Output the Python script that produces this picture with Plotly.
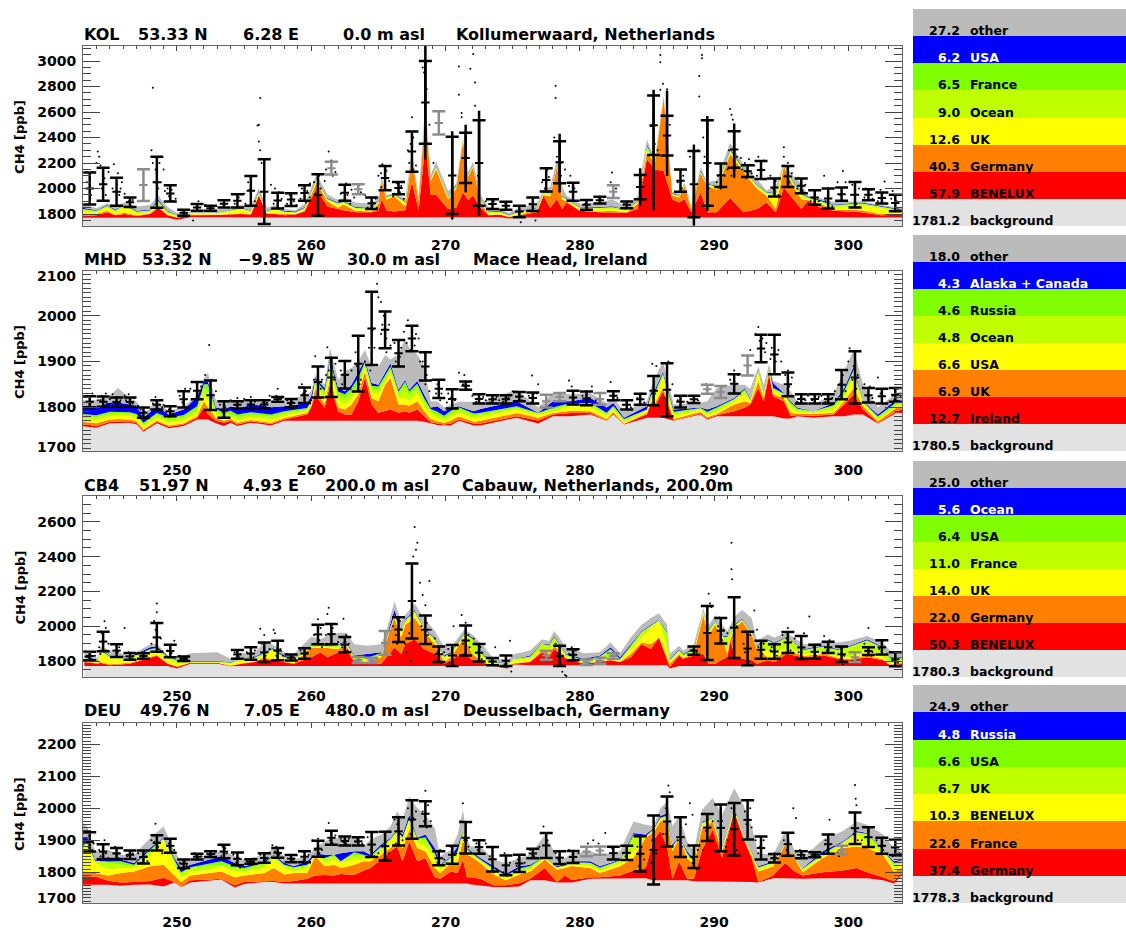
import plotly.graph_objects as go

W = 1126
H = 930

# colours of the stacked source regions, top of stack first
band_colors = ['#bbbbbb', '#0000ff', '#7fff00', '#bfff00', '#ffff00', '#ff8000', '#ff0000', '#e2e2e2']

# one error bar per day
obs_days = [243.5 + i for i in range(61)]

# ---------- KOL
kol_title = ['KOL', '53.33 N', '6.28 E', '0.0 m asl', 'Kollumerwaard, Netherlands']
kol_names = ['other', 'USA', 'France', 'Ocean', 'UK', 'Germany', 'BENELUX', 'background']
kol_values = [27.2, 6.2, 6.5, 9.0, 12.6, 40.3, 57.9, 1781.2]
kol_days = [243, 244, 244.8, 245.4, 246.1, 247, 248, 248.6, 249.3, 250,
            251, 253, 254.8, 255.5, 256.1, 256.7, 257.3, 258, 258.8, 259.5,
            260.4, 261.2, 262, 262.4, 263.3, 264.5, 265, 265.25, 265.6, 266.2,
            267, 267.5, 268, 268.5, 268.9, 269.3, 270.2, 270.8, 271.3, 271.7,
            272.05, 272.6, 273.2, 274.1, 274.7, 275.5, 276.8, 277.3, 277.8, 278.3,
            278.7, 279, 280, 281.5, 282.4, 283.5, 284.3, 285, 285.6, 286.25,
            286.9, 287.4, 287.8, 288.3, 289, 289.5, 290.2, 291.2, 292.2, 293.2,
            293.9, 294.6, 295.2, 295.9, 296.5, 297, 297.9, 298.9, 301, 302.4, 304]
kol_bg = [1770, 1770, 1770, 1770, 1770, 1770, 1770, 1770, 1770, 1755,
          1775, 1775, 1772, 1772, 1772, 1772, 1772, 1772, 1772, 1772,
          1772, 1775, 1775, 1775, 1775, 1775, 1775, 1775, 1775, 1775,
          1775, 1775, 1775, 1775, 1775, 1775, 1775, 1775, 1775, 1775,
          1775, 1775, 1770, 1775, 1765, 1772, 1772, 1772, 1772, 1772,
          1772, 1772, 1772, 1772, 1772, 1772, 1772, 1772, 1772, 1772,
          1772, 1772, 1772, 1772, 1772, 1772, 1772, 1772, 1772, 1772,
          1772, 1772, 1772, 1772, 1772, 1772, 1772, 1772, 1770, 1770, 1772]
kol_red = [1785, 1790, 1815, 1790, 1800, 1785, 1800, 1850, 1790, 1770,
           1790, 1792, 1800, 1795, 1945, 1800, 1800, 1790, 1795, 1820,
           2000, 1860, 1840, 1830, 1815, 1815, 1825, 1915, 1830, 1820,
           1830, 2050, 1830, 2350, 1950, 1950, 1840, 1850, 1970, 1910,
           1945, 1850, 1790, 1795, 1775, 1790, 1815, 1943, 1850, 1917,
           1840, 1890, 1825, 1815, 1815, 1810, 1840, 2230, 2150, 2138,
           1915, 1890, 1917, 1815, 1970, 1815, 1815, 1925, 1815, 1840,
           1890, 1815, 2008, 1917, 1840, 1905, 1852, 1825, 1815, 1790, 1795]
kol_orange = [1795, 1800, 1825, 1795, 1810, 1790, 1805, 1860, 1795, 1775,
              1795, 1795, 1805, 1800, 1950, 1805, 1805, 1800, 1800, 1825,
              2050, 1900, 1850, 1875, 1825, 1820, 1880, 2060, 1915, 1940,
              1860, 2240, 1900, 2600, 2060, 2150, 1915, 2000, 2370, 2095,
              2165, 1895, 1795, 1797, 1778, 1795, 1825, 1950, 1940, 2177,
              1915, 1900, 1830, 1820, 1825, 1815, 1880, 2280, 2200, 2715,
              1945, 1930, 2020, 1840, 2120, 2020, 1990, 2270, 2130, 2000,
              1945, 1840, 2175, 2020, 1917, 1910, 1880, 1835, 1830, 1800, 1800]
kol_yellow = [1820, 1810, 1850, 1815, 1855, 1805, 1815, 1875, 1805, 1785,
              1805, 1805, 1835, 1815, 1960, 1812, 1835, 1810, 1806, 1835,
              2065, 1910, 1870, 1885, 1840, 1830, 1895, 2065, 1925, 1945,
              1880, 2250, 1910, 2610, 2070, 2160, 1920, 2010, 2375, 2100,
              2170, 1905, 1805, 1810, 1785, 1812, 1838, 1960, 1950, 2185,
              1925, 1910, 1845, 1840, 1838, 1825, 1890, 2300, 2205, 2718,
              1950, 1935, 2025, 1845, 2125, 2025, 2000, 2280, 2140, 2010,
              1955, 1945, 2180, 2030, 1940, 1915, 1890, 1850, 1870, 1845, 1815]
kol_lime = [1835, 1820, 1860, 1825, 1865, 1815, 1825, 1895, 1815, 1790,
            1808, 1810, 1842, 1822, 1970, 1818, 1842, 1816, 1812, 1845,
            2072, 1915, 1878, 1892, 1846, 1838, 1900, 2070, 1930, 1950,
            1890, 2255, 1915, 2615, 2075, 2170, 1930, 2015, 2380, 2105,
            2180, 1912, 1812, 1816, 1790, 1816, 1842, 1965, 1960, 2190,
            1935, 1915, 1850, 1846, 1850, 1830, 1895, 2320, 2212, 2720,
            1955, 1940, 2030, 1850, 2130, 2030, 2010, 2295, 2145, 2020,
            1965, 1955, 2185, 2040, 1950, 1925, 1898, 1862, 1880, 1855, 1825]
kol_green = [1840, 1825, 1865, 1830, 1870, 1820, 1830, 1905, 1820, 1793,
             1810, 1812, 1846, 1826, 1975, 1822, 1846, 1820, 1815, 1850,
             2078, 1920, 1884, 1898, 1850, 1844, 1905, 2075, 1935, 1955,
             1895, 2260, 1920, 2620, 2080, 2175, 1935, 2020, 2382, 2110,
             2185, 1920, 1816, 1820, 1793, 1820, 1846, 1970, 1965, 2195,
             1940, 1920, 1854, 1850, 1855, 1834, 1900, 2335, 2220, 2722,
             1960, 1945, 2035, 1852, 2135, 2035, 2015, 2305, 2150, 2025,
             1970, 1960, 2190, 2050, 1960, 1932, 1905, 1870, 1885, 1860, 1830]
kol_blue = [1850, 1830, 1870, 1835, 1875, 1825, 1835, 1915, 1825, 1795,
            1812, 1815, 1850, 1830, 1985, 1826, 1850, 1825, 1820, 1855,
            2085, 1925, 1890, 1904, 1855, 1850, 1910, 2080, 1940, 1960,
            1900, 2265, 1925, 2625, 2085, 2180, 1940, 2025, 2385, 2115,
            2190, 1925, 1820, 1825, 1796, 1825, 1850, 1975, 1970, 2205,
            1945, 1925, 1858, 1855, 1862, 1838, 1905, 2345, 2225, 2724,
            1965, 1950, 2040, 1855, 2145, 2040, 2020, 2315, 2155, 2030,
            1975, 1965, 2195, 2055, 1965, 1938, 1912, 1875, 1890, 1865, 1835]
kol_other = [1880, 1845, 1885, 1865, 1890, 1860, 1870, 1945, 1855, 1810,
             1815, 1835, 1870, 1860, 2005, 1850, 1870, 1840, 1830, 1880,
             2110, 1955, 1910, 1925, 1890, 1880, 1925, 2085, 1950, 1965,
             1920, 2300, 1935, 2680, 2110, 2210, 1980, 2040, 2395, 2130,
             2210, 1950, 1855, 1840, 1810, 1850, 1880, 1990, 2015, 2230,
             2015, 1945, 1880, 1890, 1915, 1860, 1940, 2385, 2230, 2730,
             1970, 1960, 2045, 1865, 2165, 2050, 2065, 2360, 2190, 2075,
             1985, 2020, 2195, 2100, 2040, 1945, 1925, 1895, 1900, 1870, 1850]
kol_mean = [2000, 2034, 1975, 1893, 2027, 2050, 1962, 1810, 1852, 1845,
            1880, 1904, 1982, 1975, 1906, 1914, 1965, 1950, 2160, 1967,
            1995, 1885, 2082, 2004, 2290, 2676, 2515, 2103, 2240, 2200,
            1878, 1865, 1820, 1877, 2068, 2207, 1975, 1872, 1909, 1975,
            1872, 2012, 2497, 2416, 2062, 2034, 2200, 2105, 2307, 2136,
            2145, 2008, 2095, 2021, 1930, 1922, 1956, 1952, 1952, 1926,
            1886]
kol_sd = [125, 130, 110, 37, 125, 200, 64, 23, 26, 20,
          28, 52, 117, 254, 62, 50, 61, 163, 50, 63,
          39, 45, 95, 48, 158, 325, 91, 303, 197, 335,
          39, 31, 45, 53, 91, 165, 71, 38, 26, 50,
          27, 95, 234, 156, 88, 260, 335, 92, 143, 46,
          71, 70, 82, 57, 57, 78, 52, 100, 43, 43,
          65]
kol_gray = [247.5, 261.5, 263.5, 269.5, 282.5]
kol_whisk_days = [268.5, 270.5, 271.5, 272.5, 278.5, 284.5, 285.5, 286.5, 288.5, 289.5, 291.5]
kol_whisk_low = [2229, 1760, 1970, 1787, 1970, 1865, 1830, 2100, 1710, 1825, 2085]
kol_whisk_high = [3120, 2450, 2500, 2610, 2430, 2160, 2775, 2770, 2340, 2570, 2510]
kol_dots = [(243.7, 2130), (244, 2200), (244.1, 2290), (244.2, 2250), (244.3, 2180), (244.6, 2080), (244.9, 2130),
            (245.3, 2190), (245.6, 2120), (245.8, 2000), (245.9, 2050), (246.1, 1960), (246.4, 1900), (246.7, 1910),
            (248.1, 2300), (248.2, 2790), (248.2, 2200), (248.4, 2150), (248.7, 2200), (249, 2150), (248.8, 2050),
            (249.3, 2000), (249.6, 1990), (249.9, 1920), (251.2, 1750), (251.6, 1900), (252.1, 1870), (254.6, 1930),
            (255, 1960), (255.3, 2050), (255.6, 2100), (255.4, 1990), (256.2, 2710), (256.1, 2500), (256, 2495),
            (256.1, 2370), (256.2, 2300), (256.3, 2200), (257, 2030), (257.3, 2000), (257.6, 1970), (257.8, 1920),
            (258.4, 1950), (258.7, 1900), (259.3, 2000), (259.7, 1980), (259.9, 2040), (260.2, 2050), (260.6, 2100),
            (261, 2060), (261.1, 2150), (261.3, 2290), (261.5, 2220), (261.8, 2130), (261.6, 2100), (262.2, 1960),
            (262.6, 2040), (263, 1990), (263.2, 1930), (263.6, 2030), (264, 1950), (264.4, 1930), (264.8, 1920),
            (265, 2100), (265.3, 2190), (265.6, 2140), (265.8, 2060), (265.2, 2010), (266.2, 1960), (266.4, 2040),
            (266.7, 2020), (267.2, 2300), (267.3, 2450), (267.5, 2560), (267.6, 2400), (267.8, 2180), (268.3, 2950),
            (268.4, 2910), (268.6, 2780), (268.8, 2500), (269.1, 2200), (271, 2957), (272.06, 3056), (271.85, 2939),
            (272.2, 2832), (271, 2736), (272.2, 2650), (271.2, 2593), (271.2, 2560), (272.4, 2100), (272.5, 2000),
            (273, 1900), (273.6, 1900), (274.4, 1890), (275.6, 1735), (276.7, 1750), (277.2, 2050), (277.6, 2150),
            (278.2, 2806), (278.2, 2710), (278.1, 2400), (278.3, 2250), (278.6, 2200), (278.9, 2150), (279.3, 2100),
            (279.6, 2000), (280.4, 1880), (281.4, 1930), (282.4, 2125), (282.3, 2050), (282.7, 2000), (283.6, 1900),
            (284.6, 2050), (285.5, 2567), (285.3, 2489), (285.6, 2350), (285.8, 2300), (286, 3048), (286, 2990),
            (286.2, 2822), (286, 2775), (286.5, 2780), (286.7, 2500), (287.3, 2150), (287.7, 2100), (288.5, 2340),
            (288.8, 2300), (289.1, 3048), (289.1, 3022), (288.9, 2884), (288.9, 2723), (289.2, 2400), (289.3, 2250),
            (289.6, 2000), (290.3, 2100), (291.2, 2624), (291.3, 2580), (291.4, 2540), (291.5, 2440), (291.1, 2300),
            (291.7, 2250), (292, 2240), (292.3, 2200), (292.6, 2230), (293, 2180), (293.3, 2250), (293.7, 2220),
            (294.2, 2100), (294.6, 2060), (295.2, 2325), (295.2, 2250), (295.5, 2200), (295.8, 2120), (296.3, 2080),
            (296.8, 2030), (297.5, 1950), (298.2, 2100), (298.5, 2000), (299.2, 2050), (299.6, 2138), (299.8, 2050),
            (300.3, 2030), (300.8, 2000), (301.3, 2000), (301.7, 1990), (302.4, 1990), (302.7, 2055), (303.3, 1980),
            (303.6, 1900)]
kol_cloud = [(255.8, 1900), (255.1, 1880), (254.3, 1880), (257.2, 1880), (257.9, 1850), (258.2, 1880), (258.9, 1870),
             (259.2, 1920), (259.6, 1890), (259.9, 1930), (260.3, 1960), (260.7, 2000), (260.9, 1880), (262.3, 1900),
             (262.7, 1950), (262.9, 1880), (263.3, 1960), (263.7, 1970), (264.2, 1850), (264.6, 1880), (264.9, 1850),
             (265.2, 2120), (265.5, 2060), (265.7, 1990), (266.1, 1940), (266.6, 1970), (266.9, 1920), (267.3, 2200),
             (267.6, 2150), (267.4, 2350), (290.8, 2100), (290.5, 2000), (291, 2150), (291.3, 2100), (292.1, 2150),
             (292.4, 2080), (292.8, 2120), (293.2, 2100), (293.6, 2150), (294, 2080), (294.4, 2000), (294.8, 1950),
             (295.3, 2100), (295.6, 2050), (296.2, 2000), (296.6, 1980), (297.2, 1900), (297.8, 1900), (298.3, 1900),
             (298.8, 1860), (299.4, 1950), (299.7, 1900), (300.2, 1950), (300.6, 1880), (301.2, 1930), (301.8, 1920),
             (302.2, 1900), (302.8, 1880), (303.2, 1920), (303.7, 1850), (243.3, 2050), (243.6, 1950), (244.4, 2000),
             (244.7, 1950), (245.2, 2000), (245.7, 1950), (248.3, 2050), (248.6, 2000), (249.1, 1980), (249.4, 1940),
             (249.7, 1900), (250.4, 1810), (250.7, 1800), (251.5, 1860), (252.5, 1850), (253.5, 1890), (273.5, 1880),
             (274.6, 1860), (276.3, 1880), (277.4, 2000), (277.7, 2090), (278.6, 2100), (279.2, 2020), (279.5, 1950),
             (283.3, 1880), (287.3, 2050), (287.6, 2000), (288.2, 2250), (290.2, 2050)]

# ---------- MHD
mhd_title = ['MHD', '53.32 N', '\u22129.85 W', '30.0 m asl', 'Mace Head, Ireland']
mhd_names = ['other', 'Alaska + Canada', 'Russia', 'Ocean', 'USA', 'UK', 'Ireland', 'background']
mhd_values = [18.0, 4.3, 4.6, 4.8, 6.6, 6.9, 12.7, 1780.5]
mhd_days = [243, 244, 245, 245.6, 246.5, 247, 247.5, 248.5, 249.4, 250.5,
            251.5, 252, 252.3, 252.9, 253.5, 254, 254.5, 255.5, 256.5, 257,
            258, 259.7, 260, 260.3, 261, 261.4, 262, 262.5, 263, 263.5,
            264, 264.5, 265, 265.5, 265.9, 266.5, 267, 267.3, 267.9, 268.4,
            268.9, 269.4, 269.9, 270.4, 271, 272.1, 272.6, 275.3, 276.9, 278,
            279.3, 280.8, 282, 282.5, 283.3, 285, 285.3, 285.6, 286.2, 287,
            289, 289.5, 290.2, 291.5, 292.3, 292.7, 293.3, 293.7, 294.1, 294.4,
            295.2, 295.7, 296.2, 297.4, 298.9, 299.7, 300.4, 301.1, 302.2, 303.6, 304]
mhd_bg = [1758, 1755, 1765, 1766, 1766, 1762, 1746, 1765, 1754, 1759,
          1773, 1773, 1773, 1765, 1759, 1766, 1759, 1766, 1762, 1760,
          1770, 1770, 1770, 1770, 1770, 1770, 1770, 1770, 1770, 1770,
          1770, 1770, 1770, 1770, 1770, 1770, 1770, 1770, 1770, 1768,
          1765, 1761, 1760, 1760, 1770, 1760, 1760, 1777, 1764, 1780,
          1780, 1784, 1770, 1784, 1762, 1777, 1777, 1777, 1777, 1770,
          1784, 1773, 1780, 1780, 1780, 1780, 1780, 1780, 1780, 1780,
          1775, 1775, 1780, 1777, 1780, 1780, 1784, 1784, 1764, 1788, 1787]
mhd_red = [1762, 1758, 1768, 1769, 1769, 1765, 1749, 1768, 1757, 1762,
           1777, 1800, 1785, 1770, 1766, 1770, 1762, 1769, 1765, 1763,
           1773, 1784, 1800, 1827, 1798, 1850, 1791, 1784, 1784, 1813,
           1864, 1806, 1788, 1791, 1795, 1788, 1791, 1788, 1795, 1781,
           1767, 1764, 1762, 1764, 1773, 1764, 1764, 1780, 1771, 1784,
           1787, 1787, 1771, 1786, 1763, 1784, 1809, 1802, 1835, 1771,
           1786, 1775, 1782, 1791, 1799, 1806, 1842, 1813, 1871, 1824,
           1813, 1781, 1782, 1781, 1784, 1806, 1828, 1795, 1766, 1791, 1795]
mhd_orange = [1768, 1765, 1773, 1774, 1773, 1769, 1751, 1771, 1760, 1765,
              1780, 1813, 1800, 1776, 1770, 1774, 1766, 1772, 1768, 1766,
              1776, 1788, 1803, 1841, 1806, 1864, 1799, 1795, 1806, 1828,
              1878, 1820, 1813, 1849, 1864, 1806, 1806, 1803, 1813, 1792,
              1774, 1769, 1766, 1771, 1780, 1768, 1770, 1787, 1777, 1787,
              1792, 1791, 1774, 1790, 1764, 1787, 1812, 1809, 1842, 1774,
              1790, 1778, 1785, 1806, 1813, 1809, 1856, 1820, 1878, 1828,
              1820, 1788, 1785, 1785, 1788, 1813, 1842, 1802, 1769, 1799, 1800]
mhd_yellow = [1775, 1772, 1780, 1781, 1780, 1776, 1759, 1778, 1766, 1772,
              1787, 1828, 1815, 1784, 1776, 1780, 1772, 1778, 1775, 1773,
              1782, 1791, 1806, 1850, 1820, 1882, 1815, 1806, 1820, 1838,
              1886, 1831, 1828, 1856, 1875, 1820, 1820, 1813, 1831, 1802,
              1785, 1777, 1771, 1778, 1788, 1776, 1778, 1795, 1783, 1791,
              1802, 1799, 1781, 1795, 1767, 1791, 1818, 1820, 1864, 1781,
              1794, 1783, 1790, 1813, 1828, 1812, 1878, 1824, 1881, 1835,
              1825, 1799, 1790, 1788, 1795, 1820, 1871, 1808, 1773, 1802, 1804]
mhd_lime = [1780, 1778, 1785, 1786, 1785, 1781, 1763, 1783, 1772, 1778,
            1795, 1842, 1835, 1790, 1782, 1786, 1778, 1784, 1781, 1779,
            1787, 1795, 1810, 1856, 1830, 1895, 1826, 1818, 1832, 1850,
            1893, 1840, 1838, 1864, 1882, 1830, 1845, 1825, 1843, 1813,
            1792, 1783, 1776, 1785, 1795, 1782, 1784, 1798, 1786, 1795,
            1806, 1806, 1784, 1799, 1771, 1795, 1822, 1828, 1870, 1786,
            1796, 1786, 1795, 1816, 1834, 1814, 1881, 1828, 1884, 1840,
            1828, 1806, 1794, 1790, 1801, 1828, 1878, 1811, 1777, 1807, 1808]
mhd_green = [1785, 1782, 1790, 1790, 1789, 1785, 1766, 1787, 1777, 1783,
             1802, 1850, 1850, 1796, 1788, 1792, 1784, 1789, 1786, 1784,
             1791, 1798, 1814, 1860, 1836, 1903, 1834, 1828, 1842, 1864,
             1899, 1847, 1845, 1870, 1889, 1834, 1856, 1834, 1851, 1820,
             1796, 1790, 1781, 1792, 1800, 1786, 1788, 1802, 1787, 1799,
             1809, 1809, 1788, 1803, 1774, 1795, 1826, 1832, 1874, 1790,
             1798, 1790, 1799, 1818, 1839, 1816, 1883, 1830, 1887, 1842,
             1830, 1810, 1797, 1791, 1804, 1836, 1882, 1812, 1780, 1811, 1812]
mhd_blue = [1803, 1800, 1810, 1810, 1806, 1802, 1777, 1802, 1784, 1795,
            1822, 1856, 1856, 1800, 1795, 1802, 1796, 1806, 1803, 1800,
            1802, 1809, 1825, 1864, 1842, 1911, 1842, 1835, 1849, 1875,
            1904, 1853, 1849, 1875, 1896, 1838, 1860, 1838, 1857, 1828,
            1799, 1802, 1791, 1798, 1802, 1791, 1796, 1813, 1788, 1813,
            1813, 1820, 1799, 1809, 1777, 1802, 1832, 1838, 1878, 1795,
            1799, 1795, 1802, 1820, 1842, 1818, 1885, 1831, 1889, 1853,
            1831, 1813, 1799, 1791, 1809, 1842, 1889, 1813, 1784, 1817, 1813]
mhd_other = [1815, 1815, 1825, 1842, 1820, 1812, 1782, 1815, 1790, 1802,
             1826, 1862, 1875, 1815, 1812, 1815, 1810, 1814, 1812, 1810,
             1814, 1827, 1835, 1871, 1849, 1929, 1860, 1878, 1886, 1900,
             1925, 1889, 1889, 1914, 1904, 1915, 1951, 1930, 1915, 1889,
             1813, 1813, 1799, 1806, 1812, 1812, 1810, 1838, 1799, 1831,
             1828, 1831, 1809, 1820, 1791, 1813, 1842, 1864, 1900, 1806,
             1810, 1813, 1842, 1849, 1849, 1840, 1889, 1849, 1893, 1857,
             1849, 1835, 1813, 1806, 1828, 1878, 1925, 1849, 1799, 1831, 1835]
mhd_mean = [1812, 1812, 1811, 1811, 1788, 1805, 1791, 1817, 1836, 1826,
            1795, 1805, 1806, 1806, 1817, 1809, 1826, 1855, 1865, 1871,
            1895, 1972, 1969, 1918, 1950, 1889, 1840, 1818, 1847, 1818,
            1817, 1817, 1823, 1820, 1813, 1822, 1821, 1819, 1818, 1825,
            1805, 1817, 1836, 1838, 1812, 1817, 1839, 1833, 1851, 1891,
            1928, 1915, 1850, 1818, 1818, 1818, 1849, 1865, 1826, 1824,
            1827]
mhd_sd = [12, 11, 10, 10, 11, 10, 11, 18, 19, 32,
          18, 8, 9, 9, 5, 9, 17, 34, 43, 30,
          61, 80, 40, 29, 28, 31, 20, 21, 9, 10,
          9, 9, 10, 12, 14, 9, 15, 15, 13, 10,
          10, 12, 32, 58, 13, 8, 10, 13, 21, 22,
          30, 43, 26, 10, 10, 10, 32, 57, 16, 16,
          15]
mhd_gray = [277.5, 278.5, 281.5, 289.5, 290.5, 292.5]
mhd_dots = [(243.3, 1825), (243.7, 1830), (244.1, 1815), (244.4, 1825), (244.7, 1830), (245, 1818), (245.2, 1828),
            (245.5, 1822), (245.8, 1815), (246.1, 1825), (246.4, 1828), (246.8, 1820), (247.3, 1795), (247.6, 1790),
            (247.8, 1780), (248.4, 1822), (248.7, 1815), (249, 1805), (249.4, 1795), (249.7, 1785), (250.2, 1825),
            (250.6, 1840), (250.9, 1835), (251.2, 1855), (251.5, 1850), (251.8, 1845), (252.1, 1870), (252.4, 1936),
            (252.6, 1860), (252.9, 1835), (253.2, 1805), (253.6, 1800), (254, 1815), (254.5, 1820), (255, 1818),
            (255.5, 1822), (256, 1815), (256.4, 1810), (256.9, 1825), (257.4, 1825), (257.5, 1840), (257.8, 1820),
            (258.2, 1815), (258.6, 1812), (259.3, 1850), (259.6, 1835), (260, 1815), (260.3, 1911), (260.5, 1880),
            (260.8, 1860), (261.1, 1870), (261.2, 1931), (261.5, 1905), (261.8, 1895), (262.2, 1880), (262.5, 1895),
            (263, 1880), (263.3, 1920), (263.7, 1860), (264, 1900), (264.3, 1930), (264.5, 2040), (264.9, 2070),
            (265, 2040), (265.2, 2030), (265.4, 2000), (265.2, 1960), (265.6, 1950), (265.9, 1935), (266.2, 1940),
            (266.6, 1910), (266.9, 1965), (267.2, 1990), (267.5, 1970), (267.8, 1960), (268, 1950), (268.3, 1900),
            (268.6, 1870), (269, 1860), (269.4, 1850), (269.7, 1830), (270.2, 1830), (270.7, 1815), (271, 1875),
            (271.4, 1870), (271.7, 1855), (272, 1825), (272.5, 1820), (273, 1815), (273.5, 1825), (274, 1815),
            (275, 1835), (275.5, 1830), (276.2, 1825), (276.45, 1869), (276.6, 1830), (276.9, 1850), (279.2, 1858),
            (279.4, 1845), (280.5, 1835), (280.9, 1845), (282.3, 1855), (282.6, 1825), (283.5, 1810), (284.6, 1830),
            (285.4, 1895), (285.7, 1890), (286.6, 1900), (286.9, 1850), (287.6, 1825), (288.5, 1825), (289.4, 1850),
            (290.6, 1845), (291.2, 1860), (291.5, 1880), (291.8, 1870), (292.5, 1910), (292.7, 1925), (293.1, 1960),
            (293.3, 1975), (293.6, 1950), (293.9, 1940), (294.3, 1930), (294.8, 1925), (295, 1900), (295.5, 1880),
            (295.8, 1865), (296.5, 1820), (297, 1825), (298, 1825), (299, 1835), (299.6, 1870), (300, 1900),
            (300.1, 1929), (300.4, 1890), (300.7, 1870), (301.2, 1850), (301.6, 1845), (302.2, 1865), (302.7, 1840),
            (303.3, 1825), (303.7, 1840)]
mhd_cloud = [(243.6, 1810), (244.3, 1815), (244.8, 1808), (245.3, 1812), (245.7, 1810), (246.2, 1815), (246.7, 1808),
             (247.1, 1803), (248.2, 1808), (248.9, 1800), (249.2, 1790), (250.4, 1810), (251, 1840), (251.7, 1830),
             (253.4, 1790), (254.3, 1805), (254.8, 1812), (255.3, 1805), (255.8, 1812), (256.2, 1803), (256.7, 1810),
             (257.2, 1812), (258.4, 1805), (258.9, 1802), (259.4, 1830), (260.2, 1860), (260.7, 1840), (261.3, 1880),
             (261.7, 1860), (262.3, 1850), (262.7, 1870), (263.4, 1890), (263.6, 1850), (264.6, 1970), (264.7, 1930),
             (264.4, 1880), (265.3, 1980), (265.6, 1920), (265.8, 1980), (266.3, 1900), (266.7, 1930), (267.1, 1940),
             (267.4, 1925), (267.7, 1935), (268.1, 1900), (268.5, 1850), (268.8, 1835), (269.3, 1830), (269.6, 1815),
             (270.1, 1810), (270.4, 1820), (271.3, 1850), (271.6, 1840), (272.3, 1812), (272.8, 1822), (273.3, 1810),
             (273.8, 1822), (274.3, 1812), (274.7, 1820), (275.3, 1822), (275.7, 1815), (276.4, 1810), (276.8, 1830),
             (279.6, 1820), (280.2, 1825), (280.7, 1820), (281.2, 1815), (282.8, 1820), (283.2, 1805), (283.8, 1800),
             (284.3, 1820), (284.8, 1810), (285.6, 1830), (286.3, 1820), (287.3, 1815), (288, 1812), (288.8, 1815),
             (291.6, 1850), (293.4, 1945), (293.8, 1920), (294.2, 1905), (294.6, 1900), (295.3, 1870), (295.6, 1845),
             (296.2, 1812), (296.8, 1815), (297.3, 1815), (297.8, 1822), (298.3, 1812), (298.8, 1820), (299.4, 1850),
             (299.8, 1835), (300.3, 1860), (300.6, 1840), (301.4, 1825), (301.8, 1820), (302.4, 1830), (303.4, 1815),
             (303.9, 1825)]

# ---------- CB4
cb4_title = ['CB4', '51.97 N', '4.93 E', '200.0 m asl', 'Cabauw, Netherlands, 200.0m']
cb4_names = ['other', 'Ocean', 'USA', 'France', 'UK', 'Germany', 'BENELUX', 'background']
cb4_values = [25.0, 5.6, 6.4, 11.0, 14.0, 22.0, 50.3, 1780.3]
cb4_days = [243.1, 244.1, 244.3, 245, 246.5, 248, 248.5, 249.3, 250, 251,
            253, 254, 254.8, 255.8, 256.5, 257.1, 258, 258.7, 260, 260.7,
            261.2, 262, 262.6, 263.2, 264.2, 265.2, 265.5, 266.2, 266.7, 267,
            267.7, 268.4, 269.2, 269.9, 270.4, 271.4, 272, 272.9, 273.5, 274.6,
            275.1, 276.3, 277.2, 277.7, 278.1, 279, 280.3, 281.5, 282.3, 283,
            283.8, 284.6, 285.3, 285.9, 286.5, 286.7, 287.4, 287.7, 288.5, 289.2,
            289.6, 290.1, 290.7, 291, 291.2, 291.6, 292.1, 292.8, 293.2, 294,
            294.5, 295.4, 296.7, 298.2, 299.2, 300.1, 301.4, 302.6, 303.1, 304]
cb4_bg = [1772, 1772, 1772, 1772, 1772, 1772, 1772, 1772, 1757, 1785,
          1785, 1770, 1772, 1772, 1772, 1772, 1772, 1772, 1772, 1772,
          1772, 1772, 1772, 1772, 1772, 1772, 1772, 1772, 1772, 1772,
          1772, 1772, 1772, 1772, 1772, 1772, 1772, 1772, 1772, 1757,
          1780, 1776, 1776, 1776, 1776, 1776, 1776, 1776, 1776, 1776,
          1776, 1776, 1776, 1776, 1776, 1757, 1772, 1772, 1772, 1772,
          1772, 1772, 1772, 1772, 1772, 1772, 1772, 1772, 1772, 1772,
          1772, 1772, 1772, 1772, 1772, 1772, 1772, 1772, 1772, 1772]
cb4_red = [1795, 1785, 1790, 1776, 1785, 1822, 1830, 1785, 1766, 1790,
           1790, 1772, 1785, 1795, 1813, 1804, 1794, 1785, 1822, 1850,
           1822, 1850, 1869, 1794, 1785, 1785, 1813, 1878, 1841, 1897,
           1925, 1869, 1841, 1785, 1804, 1850, 1804, 1785, 1776, 1766,
           1785, 1794, 1850, 1822, 1869, 1813, 1785, 1794, 1804, 1794,
           1822, 1897, 1869, 1935, 1804, 1766, 1832, 1813, 1832, 1841,
           1785, 1785, 1813, 1822, 1916, 1822, 1813, 1804, 1785, 1804,
           1794, 1841, 1822, 1832, 1813, 1804, 1822, 1804, 1776, 1785]
cb4_orange = [1798, 1790, 1795, 1782, 1790, 1826, 1835, 1788, 1770, 1791,
              1791, 1774, 1788, 1798, 1822, 1808, 1797, 1788, 1878, 1878,
              1875, 1869, 1888, 1804, 1795, 1822, 1897, 2047, 1935, 2009,
              2047, 1972, 1897, 1794, 1822, 1935, 1841, 1790, 1778, 1768,
              1788, 1797, 1860, 1840, 1888, 1816, 1787, 1797, 1807, 1796,
              1841, 1906, 1897, 1935, 1822, 1785, 1841, 1819, 1841, 2065,
              1953, 2009, 1916, 1841, 1925, 1990, 2028, 1953, 1869, 1820,
              1810, 1860, 1830, 1840, 1820, 1812, 1830, 1810, 1780, 1790]
cb4_yellow = [1813, 1795, 1850, 1815, 1813, 1850, 1855, 1813, 1785, 1793,
              1793, 1785, 1804, 1813, 1832, 1860, 1813, 1804, 1882, 1882,
              1880, 1878, 1897, 1813, 1805, 1832, 1905, 2050, 1953, 2020,
              2075, 1972, 1916, 1813, 1841, 1945, 1841, 1813, 1785, 1776,
              1804, 1813, 1869, 1850, 1897, 1822, 1794, 1804, 1822, 1800,
              1869, 1935, 1991, 2028, 1879, 1794, 1850, 1825, 1850, 2075,
              1960, 2018, 1925, 1850, 1935, 1998, 2032, 1960, 1875, 1860,
              1841, 1879, 1841, 1850, 1832, 1822, 1869, 1822, 1785, 1804]
cb4_lime = [1817, 1800, 1860, 1822, 1818, 1865, 1870, 1820, 1800, 1796,
            1796, 1790, 1810, 1818, 1840, 1866, 1820, 1808, 1888, 1885,
            1884, 1888, 1906, 1822, 1815, 1841, 1910, 2056, 1972, 2030,
            2084, 1981, 1925, 1822, 1841, 1953, 1925, 1822, 1794, 1780,
            1810, 1822, 1897, 1885, 1935, 1832, 1800, 1822, 1860, 1807,
            1879, 1963, 2000, 2032, 1955, 1804, 1860, 1832, 1860, 2084,
            1970, 2028, 1935, 1935, 1972, 2005, 2037, 1963, 1879, 1916,
            1897, 1935, 1860, 1879, 1860, 1879, 1916, 1869, 1813, 1813]
cb4_green = [1820, 1803, 1865, 1826, 1822, 1870, 1875, 1825, 1805, 1798,
             1798, 1792, 1813, 1822, 1845, 1870, 1825, 1810, 1892, 1888,
             1888, 1892, 1910, 1826, 1820, 1845, 1913, 2065, 1978, 2035,
             2088, 1985, 1930, 1826, 1845, 1958, 1930, 1826, 1797, 1785,
             1813, 1826, 1899, 1890, 1938, 1836, 1804, 1826, 1870, 1812,
             1890, 1968, 2005, 2035, 1962, 1808, 1864, 1836, 1868, 2086,
             1975, 2030, 1940, 1940, 1975, 2010, 2040, 1966, 1885, 1920,
             1900, 1938, 1865, 1885, 1865, 1883, 1920, 1875, 1818, 1816]
cb4_blue = [1832, 1806, 1870, 1830, 1826, 1880, 1885, 1830, 1808, 1800,
            1800, 1795, 1815, 1826, 1850, 1875, 1832, 1813, 1897, 1892,
            1892, 1897, 1916, 1832, 1841, 1850, 1916, 2093, 1982, 2040,
            2093, 1990, 1935, 1832, 1850, 1963, 1935, 1832, 1800, 1788,
            1813, 1832, 1901, 1895, 1944, 1841, 1813, 1832, 1879, 1822,
            1897, 1972, 2009, 2037, 1968, 1812, 1868, 1840, 1875, 2088,
            1980, 2035, 1945, 1945, 1978, 2015, 2045, 1970, 1890, 1925,
            1905, 1941, 1870, 1890, 1870, 1888, 1925, 1880, 1822, 1822]
cb4_other = [1869, 1815, 1885, 1860, 1832, 1895, 1900, 1832, 1813, 1845,
             1850, 1813, 1845, 1850, 1907, 1897, 1850, 1841, 1940, 1925,
             1945, 1963, 1963, 1897, 1888, 1897, 1950, 2140, 2028, 2065,
             2131, 2047, 1972, 1879, 1879, 1981, 1953, 1879, 1822, 1804,
             1841, 1860, 1925, 1915, 1972, 1879, 1845, 1850, 1907, 1845,
             1935, 2009, 2047, 2075, 2009, 1841, 1888, 1860, 1897, 2103,
             2009, 2065, 2000, 1972, 2005, 2060, 2094, 2047, 1916, 1953,
             1935, 1963, 1897, 1907, 1907, 1916, 1944, 1907, 1860, 1850]
cb4_mean = [1829, 1912, 1860, 1827, 1829, 1936, 1858, 1813, None, None,
            None, 1838, 1843, 1850, 1860, 1820, 1843, 1953, 1955, 1894,
            1806, 1804, 1904, 1981, 2145, 1980, 1839, 1832, 1918, 1848,
            1797, 1802, None, None, 1833, 1830, 1836, 1793, 1802, 1829,
            None, None, None, None, None, 1860, 1961, 1974, 1992, 1872,
            1865, 1855, 1907, 1878, 1853, 1879, 1839, 1822, 1857, 1879,
            1810]
cb4_sd = [25, 56, 37, 20, 16, 82, 36, 13, None, None,
          None, 25, 36, 56, 56, 17, 30, 56, 58, 44,
          17, 15, 68, 71, 216, 82, 45, 60, 86, 50,
          21, 30, None, None, 26, 58, 32, 16, 17, 16,
          None, None, None, None, None, 24, 155, 73, 175, 96,
          52, 42, 60, 66, 40, 32, 45, 28, 22, 41,
          40]
cb4_gray = [263.5, 264.5, 265.5, 277.5, 280.5, 281.5, 282.5, 300.5]
cb4_dots = [(243.6, 1850), (243.9, 1830), (244.2, 1880), (244.4, 1960), (244.6, 2028), (244.7, 1990), (244.9, 1900),
            (245.3, 1900), (245.7, 1880), (246.1, 1990), (246.4, 1850), (247, 1840), (247.6, 1850), (248.1, 1900),
            (248.3, 2030), (248.5, 2131), (248.5, 2080), (248.4, 1980), (248.8, 1930), (249.3, 1860), (249.8, 1916),
            (250.2, 1830), (250.6, 1820), (254.3, 1850), (254.7, 1840), (255.4, 1880), (255.8, 1860), (256.2, 1985),
            (256.3, 1900), (256.5, 1950), (257.2, 1980), (257.3, 1960), (257.7, 1870), (258.2, 1840), (258.6, 1825),
            (259.2, 1860), (259.7, 1850), (260.2, 1950), (260.5, 2040), (260.7, 1990), (261.1, 1950), (261.3, 2106),
            (261.2, 2070), (261.6, 1990), (262, 1910), (262.4, 2043), (262.6, 1950), (262.8, 1900), (266.1, 2000),
            (266.3, 1950), (266.7, 1980), (267, 1900), (267.3, 1960), (267.6, 2360), (267.7, 2570), (267.8, 2440),
            (267.9, 2480), (267.6, 2400), (268.1, 2250), (268.3, 2180), (268.8, 2260), (268.5, 2120), (268.6, 2020),
            (268.9, 1980), (269.2, 1930), (269.4, 1850), (269.9, 1850), (270.2, 1870), (270.6, 2000), (271.2, 2065),
            (271.5, 2020), (271.7, 1950), (272.1, 1930), (272.6, 1880), (273.7, 1880), (274.8, 1916), (274.9, 1740),
            (278.2, 1900), (278.7, 1738), (278.9, 1720), (279, 1714), (279.4, 1880), (279.7, 1860), (281.3, 1800),
            (289.6, 2187), (289.7, 2130), (289.8, 2110), (290.4, 2050), (290.7, 1980), (290.9, 1900), (291.3, 2480),
            (291.3, 2327), (291.35, 2270), (291.7, 2000), (292.2, 1900), (292.7, 1950), (293, 2090), (293.2, 1980),
            (293.7, 1900), (294.3, 1880), (295.1, 1950), (295.5, 1990), (296, 1930), (296.7, 1960), (297.1, 2056),
            (297.4, 1880), (298.2, 1944), (298.6, 1920), (299.3, 1880), (299.7, 1830), (300.3, 1800), (301.5, 1990),
            (301.2, 1900), (301.8, 1850), (302.4, 1920), (302.7, 1880), (303.5, 1830), (303.7, 1790)]
cb4_cloud = [(243.4, 1825), (244.3, 1840), (244.7, 1860), (245.6, 1850), (246.7, 1815), (247.3, 1825), (248.6, 1870),
             (249.6, 1845), (254.6, 1825), (255.2, 1850), (255.7, 1820), (256.6, 1830), (256.9, 1870), (257.4, 1830),
             (257.9, 1830), (258.8, 1810), (259.5, 1830), (260.3, 1900), (260.6, 1920), (260.8, 1880), (261.4, 1950),
             (261.7, 1900), (262.3, 1880), (262.7, 1860), (266.4, 1900), (266.6, 2030), (267.1, 1850), (267.4, 1800),
             (268.2, 2000), (268.7, 1950), (269.5, 1820), (269.7, 1790), (270.3, 1790), (270.8, 1830), (271.3, 1900),
             (271.8, 1880), (272.4, 1850), (272.7, 1810), (273.4, 1800), (274.4, 1780), (278.4, 1840), (278.6, 1780),
             (279.2, 1840), (279.6, 1810), (288.4, 1860), (288.7, 1850), (290.3, 2000), (290.6, 1920), (291, 1960),
             (292.3, 1850), (292.6, 1800), (292.9, 1780), (293.3, 1880), (293.6, 1840), (294.2, 1860), (294.7, 1830),
             (295.4, 1930), (295.7, 1860), (296.3, 1850), (296.6, 1820), (297.6, 1830), (298.4, 1860), (299.4, 1800),
             (299.6, 1780), (301.3, 1860), (301.7, 1830), (302.3, 1870), (303.3, 1800)]

# ---------- DEU
deu_title = ['DEU', '49.76 N', '7.05 E', '480.0 m asl', 'Deusselbach, Germany']
deu_names = ['other', 'Russia', 'USA', 'UK', 'BENELUX', 'France', 'Germany', 'background']
deu_values = [24.9, 4.8, 6.6, 6.7, 10.3, 22.6, 37.4, 1778.3]
deu_days = [243, 243.3, 243.9, 244.9, 245.8, 246.8, 248, 249, 249.8, 250.3,
            251, 252.5, 253.3, 254.3, 255, 256.5, 257.2, 258, 258.7, 259.7,
            260.3, 261, 261.7, 262.2, 263.2, 263.9, 264.4, 265.2, 265.9, 266.4,
            266.8, 267.3, 267.9, 268.5, 269.2, 269.6, 270.4, 270.9, 271.3, 271.6,
            271.9, 272.6, 273.6, 274.5, 275.5, 276.3, 277.4, 278.3, 278.9, 279.4,
            280.8, 281.5, 283, 284, 284.9, 285.5, 286, 286.5, 286.9, 287.4,
            288, 288.5, 289.1, 289.9, 290.6, 291.5, 292.2, 292.8, 293.3, 294.4,
            295.3, 296, 296.6, 298.1, 299.6, 300.6, 301.4, 302.6, 303.4, 304]
deu_bg = [1761, 1761, 1761, 1761, 1758, 1761, 1762, 1756, 1768, 1754,
          1768, 1776, 1778, 1753, 1764, 1770, 1770, 1765, 1765, 1765,
          1765, 1765, 1765, 1765, 1765, 1765, 1765, 1765, 1765, 1765,
          1765, 1765, 1765, 1765, 1765, 1765, 1765, 1765, 1765, 1765,
          1762, 1758, 1754, 1754, 1756, 1775, 1775, 1768, 1768, 1768,
          1780, 1780, 1782, 1782, 1782, 1775, 1775, 1775, 1775, 1775,
          1775, 1772, 1772, 1770, 1770, 1770, 1770, 1770, 1768, 1782,
          1782, 1780, 1780, 1782, 1782, 1782, 1782, 1775, 1765, 1792]
deu_red = [1788, 1788, 1787, 1774, 1768, 1770, 1773, 1783, 1770, 1756,
           1775, 1778, 1780, 1760, 1770, 1772, 1773, 1770, 1773, 1780,
           1790, 1792, 1790, 1795, 1792, 1806, 1814, 1840, 1866, 1881,
           1835, 1897, 1835, 1845, 1785, 1780, 1803, 1798, 1840, 1785,
           1785, 1780, 1760, 1760, 1766, 1780, 1814, 1770, 1790, 1776,
           1785, 1785, 1790, 1806, 1814, 1900, 1930, 1880, 1780, 1834,
           1780, 1780, 1870, 1933, 1845, 1990, 1905, 1845, 1770, 1790,
           1829, 1803, 1790, 1800, 1806, 1814, 1800, 1785, 1772, 1797]
deu_orange = [1803, 1803, 1798, 1790, 1798, 1803, 1819, 1824, 1791, 1770,
              1790, 1798, 1803, 1785, 1790, 1798, 1814, 1793, 1798, 1798,
              1850, 1819, 1824, 1814, 1824, 1835, 1835, 1855, 1876, 1892,
              1876, 1933, 1876, 1866, 1814, 1798, 1829, 1829, 1902, 1855,
              1850, 1829, 1793, 1775, 1793, 1803, 1840, 1808, 1814, 1820,
              1814, 1798, 1819, 1845, 1908, 1925, 1960, 1960, 1866, 1908,
              1845, 1824, 1938, 1959, 1866, 1990, 1910, 1850, 1803, 1819,
              1886, 1845, 1800, 1845, 1876, 1881, 1876, 1855, 1803, 1814]
deu_yellow = [1865, 1890, 1830, 1808, 1814, 1814, 1850, 1902, 1824, 1785,
              1803, 1808, 1819, 1803, 1803, 1814, 1845, 1814, 1803, 1814,
              1855, 1829, 1840, 1829, 1840, 1840, 1840, 1866, 1897, 1923,
              1902, 1959, 1892, 1881, 1845, 1808, 1840, 1855, 1908, 1860,
              1853, 1833, 1803, 1780, 1803, 1808, 1845, 1812, 1818, 1825,
              1820, 1805, 1830, 1866, 1910, 1930, 1965, 1965, 1872, 1910,
              1850, 1828, 1948, 1964, 1872, 1995, 1911, 1858, 1808, 1825,
              1888, 1847, 1805, 1850, 1886, 1918, 1892, 1860, 1814, 1829]
deu_lime = [1876, 1895, 1835, 1829, 1824, 1819, 1866, 1905, 1835, 1795,
            1814, 1819, 1824, 1814, 1808, 1824, 1850, 1819, 1814, 1819,
            1857, 1840, 1850, 1835, 1855, 1850, 1845, 1876, 1902, 1928,
            1907, 1965, 1902, 1902, 1855, 1814, 1845, 1863, 1929, 1870,
            1858, 1836, 1808, 1785, 1808, 1814, 1848, 1814, 1820, 1830,
            1826, 1810, 1835, 1908, 1912, 1933, 1968, 1972, 1876, 1911,
            1856, 1832, 1953, 1970, 1876, 2000, 1912, 1862, 1814, 1829,
            1890, 1849, 1810, 1855, 1892, 1923, 1918, 1866, 1824, 1835]
deu_green = [1882, 1900, 1836, 1834, 1835, 1824, 1871, 1907, 1840, 1800,
             1816, 1829, 1835, 1819, 1814, 1829, 1853, 1824, 1816, 1824,
             1858, 1845, 1855, 1835, 1863, 1855, 1850, 1881, 1905, 1930,
             1910, 1970, 1905, 1910, 1860, 1820, 1848, 1866, 1932, 1873,
             1862, 1840, 1812, 1790, 1812, 1820, 1850, 1816, 1822, 1832,
             1830, 1815, 1838, 1918, 1913, 1935, 1971, 1978, 1880, 1912,
             1860, 1835, 1955, 1971, 1880, 2003, 1913, 1864, 1816, 1831,
             1891, 1850, 1812, 1858, 1895, 1925, 1921, 1868, 1830, 1838]
deu_blue = [1907, 1912, 1840, 1845, 1840, 1829, 1876, 1910, 1845, 1814,
            1824, 1840, 1850, 1829, 1819, 1835, 1855, 1829, 1819, 1835,
            1860, 1855, 1855, 1860, 1866, 1866, 1855, 1887, 1908, 1933,
            1918, 1980, 1908, 1918, 1876, 1824, 1850, 1881, 1934, 1876,
            1866, 1845, 1819, 1796, 1819, 1824, 1850, 1819, 1826, 1835,
            1835, 1819, 1840, 1923, 1918, 1938, 1976, 1985, 1886, 1914,
            1866, 1840, 1958, 1972, 1884, 2005, 1914, 1866, 1819, 1835,
            1892, 1850, 1814, 1866, 1897, 1929, 1923, 1870, 1835, 1840]
deu_other = [1954, 1945, 1865, 1870, 1855, 1855, 1907, 1943, 1866, 1835,
             1845, 1855, 1871, 1850, 1840, 1855, 1876, 1850, 1840, 1850,
             1876, 1897, 1907, 1907, 1907, 1880, 1902, 1918, 1943, 1990,
             1965, 2037, 2000, 1980, 1938, 1850, 1871, 1918, 1995, 1905,
             1881, 1881, 1840, 1829, 1845, 1855, 1917, 1850, 1845, 1860,
             1866, 1855, 1866, 1959, 1949, 1945, 2000, 2021, 1945, 1975,
             1897, 1866, 1995, 2032, 1980, 2063, 2010, 1945, 1860, 1855,
             1930, 1871, 1845, 1902, 1929, 1959, 1949, 1918, 1876, 1866]
deu_mean = [1895, 1865, 1859, 1855, 1848, 1892, 1883, 1827, 1849, 1857,
            1865, 1842, 1834, 1845, 1861, 1843, 1849, 1874, 1908, 1898,
            1897, 1887, 1882, 1928, 1965, 1983, 1844, 1855, 1908, 1879,
            1841, 1822, 1828, 1859, 1884, 1846, 1848, 1865, 1868, 1860,
            1861, 1858, 1870, 1959, 1910, 1849, 1940, 1939, 1935, 1964,
            1876, 1844, 1888, 1855, 1855, 1888, 1870, 1938, 1910, 1883,
            1878]
deu_sd = [30, 23, 17, 13, 20, 24, 22, 13, 9, 9,
          21, 20, 7, 15, 15, 11, 17, 25, 22, 14,
          13, 39, 45, 44, 60, 39, 22, 28, 49, 21,
          38, 31, 27, 15, 39, 20, 19, 15, 13, 20,
          22, 55, 108, 78, 62, 35, 42, 73, 82, 61,
          36, 13, 36, 11, 8, 30, 13, 49, 31, 25,
          24]
deu_gray = [280.5, 281.5, 299.5]
deu_dots = [(243.3, 1930), (243.5, 1910), (243.8, 1890), (244.2, 1870), (244.6, 1900), (244.9, 1845), (245.4, 1880),
            (245.7, 1860), (246.2, 1870), (246.5, 1845), (247.1, 1860), (247.5, 1840), (247.8, 1835), (248.1, 1900),
            (248.4, 1952), (248.6, 1880), (248.9, 1860), (249.4, 1890), (249.8, 1870), (250.2, 1830), (250.7, 1820),
            (251.3, 1860), (251.8, 1850), (252.2, 1865), (252.8, 1860), (253.4, 1880), (253.7, 1860), (254.2, 1855),
            (254.6, 1845), (255.2, 1835), (255.7, 1830), (256.2, 1855), (256.6, 1840), (257.1, 1885), (257.4, 1880),
            (257.7, 1860), (258.3, 1855), (258.7, 1840), (259.3, 1865), (259.8, 1855), (260.1, 1900), (260.5, 1905),
            (260.8, 1870), (261.3, 1954), (261.5, 1930), (261.8, 1915), (262.2, 1905), (262.8, 1905), (263.4, 1905),
            (263.8, 1890), (264.2, 1910), (264.6, 1925), (265, 1860), (265.5, 1900), (265.8, 1860), (266.2, 1965),
            (266.4, 1950), (266.8, 1900), (267.2, 2000), (267.5, 1950), (267.8, 1990), (268.3, 1990), (268.5, 2055),
            (268.7, 2010), (268.9, 1960), (269.6, 1870), (269.9, 1840), (270.4, 1880), (270.8, 1860), (271.3, 2016),
            (271.1, 1960), (271.4, 1900), (271.7, 1880), (272.3, 1890), (272.7, 1860), (273, 1890), (273.4, 1840),
            (273.8, 1810), (274.4, 1860), (274.8, 1830), (275.3, 1820), (275.9, 1830), (276.3, 1870), (277, 1880),
            (277.3, 1943), (277.6, 1900), (278.2, 1860), (279.2, 1870), (279.5, 1850), (279.9, 1860), (280.6, 1890),
            (281, 1900), (281.4, 1890), (281.9, 1923), (282.4, 1875), (283.2, 1860), (284.6, 1880), (284.4, 1820),
            (285.3, 1830), (285.7, 1860), (286.2, 1920), (286.6, 2071), (286.7, 2050), (286.4, 2000), (287.3, 1900),
            (287.9, 1950), (288.2, 2016), (288.4, 1980), (288.8, 1870), (289.2, 1870), (289.9, 1960), (290.6, 1960),
            (291, 1900), (291.6, 1980), (292.3, 1990), (292.8, 1940), (293.1, 1900), (293.4, 1880), (293.9, 1840),
            (294.5, 1860), (295.2, 1900), (295.9, 2000), (296.1, 1970), (296.4, 1870), (297.2, 1865), (298.3, 1900),
            (298.6, 1964), (299.2, 1860), (300.5, 2073), (300.55, 2030), (300.6, 2010), (300.4, 1920), (301, 1900),
            (301.5, 1930), (302.1, 1900), (302.6, 1870), (303.2, 1900), (303.6, 1880), (303.8, 1860)]
deu_cloud = [(243.4, 1880), (243.7, 1870), (244.3, 1850), (244.7, 1860), (245.3, 1860), (245.6, 1845), (246.3, 1850),
             (246.7, 1860), (247.3, 1830), (247.7, 1850), (248.3, 1895), (248.7, 1870), (249.3, 1860), (249.6, 1865),
             (250.4, 1810), (250.6, 1835), (251.4, 1850), (252.4, 1855), (253.3, 1850), (253.6, 1875), (254.4, 1830),
             (254.7, 1815), (255.4, 1830), (256.4, 1830), (257.3, 1865), (257.6, 1855), (258.6, 1835), (259.4, 1835),
             (260.3, 1870), (260.6, 1860), (261.4, 1900), (261.6, 1890), (262.4, 1895), (262.6, 1890), (263.3, 1895),
             (263.6, 1885), (264.4, 1870), (264.7, 1850), (265.3, 1880), (265.7, 1840), (266.3, 1890), (266.6, 1920),
             (267.4, 1920), (267.6, 1970), (268.4, 1960), (268.6, 1940), (269.4, 1830), (270.5, 1845), (271.6, 1900),
             (272.4, 1870), (273.3, 1850), (273.6, 1800), (274.3, 1800), (274.6, 1790), (275.4, 1840), (275.7, 1800),
             (276.6, 1850), (277.5, 1870), (278.4, 1840), (279.6, 1830), (282.6, 1860), (283.4, 1850), (284.3, 1880),
             (284.8, 1840), (285.4, 1900), (285.6, 1780), (286.4, 1920), (287.6, 1880), (288.4, 1830), (288.7, 1810),
             (289.4, 1930), (290.3, 1960), (290.9, 1880), (291.3, 2000), (291.7, 1870), (292.4, 1950), (292.7, 2000),
             (293.3, 1860), (293.7, 1900), (294.4, 1845), (295.4, 1870), (295.6, 1850), (296.7, 1850), (297.4, 1850),
             (298.4, 1870), (299.3, 1850), (300.7, 1900), (301.7, 1880), (302.4, 1860), (303.3, 1850)]


def px_x(px):
    return px / W


def px_y(px):
    return 1 - px / H


fig = go.Figure()
annotations = []
bold = dict(family='DejaVu Sans', weight=700, color='black')

panels = [
    dict(title=kol_title, title_x=[82, 136, 241, 341, 454], names=kol_names, values=kol_values, days=kol_days,
         gray=kol_gray, dots=kol_dots + kol_cloud,
         bands=[kol_other, kol_blue, kol_green, kol_lime, kol_yellow, kol_orange, kol_red, kol_bg],
         mean=kol_mean, sd=kol_sd, top=46, bottom=227, leg_top=9, title_y=35, yrange=[1706, 3120],
         major=list(range(1800, 3001, 200)), minor=list(range(1750, 3101, 50)), extra=[]),
    dict(title=mhd_title, title_x=[82, 140, 236, 345, 471], names=mhd_names, values=mhd_values, days=mhd_days,
         gray=mhd_gray, dots=mhd_dots + mhd_cloud,
         bands=[mhd_other, mhd_blue, mhd_green, mhd_lime, mhd_yellow, mhd_orange, mhd_red, mhd_bg],
         mean=mhd_mean, sd=mhd_sd, top=272, bottom=453, leg_top=236, title_y=261, yrange=[1704, 2098],
         major=[1800, 1900, 2000], minor=list(range(1710, 2091, 10)), extra=[('2100', 277), ('1700', 449)]),
    dict(title=cb4_title, title_x=[82, 137, 241, 323, 460], names=cb4_names, values=cb4_values, days=cb4_days,
         gray=cb4_gray, dots=cb4_dots + cb4_cloud,
         bands=[cb4_other, cb4_blue, cb4_green, cb4_lime, cb4_yellow, cb4_orange, cb4_red, cb4_bg],
         mean=cb4_mean, sd=cb4_sd, top=498, bottom=680, leg_top=463, title_y=488, yrange=[1708, 2749],
         major=[1800, 2000, 2200, 2400, 2600], minor=list(range(1750, 2701, 50)), extra=[]),
    dict(title=deu_title, title_x=[82, 138, 242, 323, 461], names=deu_names, values=deu_values, days=deu_days,
         gray=deu_gray, dots=deu_dots + deu_cloud,
         bands=[deu_other, deu_blue, deu_green, deu_lime, deu_yellow, deu_orange, deu_red, deu_bg],
         mean=deu_mean, sd=deu_sd, top=726, bottom=907, leg_top=688, title_y=714, yrange=[1704, 2267],
         major=[1800, 1900, 2000, 2100, 2200], minor=list(range(1710, 2261, 10)), extra=[('1700', 902)]),
]

layout_axes = {}
for i, p in enumerate(panels):
    n = i + 1
    xa, ya = f'x{n}', f'y{n}'
    # filled stack from the background upwards
    fill = 'tozeroy'
    for band, color in zip(p['bands'][::-1], band_colors[::-1]):
        fig.add_trace(go.Scatter(x=p['days'], y=band, xaxis=xa, yaxis=ya, mode='lines', line=dict(width=0),
                                 fill=fill, fillcolor=color, hoverinfo='skip', showlegend=False))
        fill = 'tonexty'
    # raw observations
    fig.add_trace(go.Scatter(x=[d[0] for d in p['dots']], y=[d[1] for d in p['dots']], xaxis=xa, yaxis=ya,
                             mode='markers', marker=dict(size=2, color='black'), hoverinfo='skip', showlegend=False))
    # daily mean and spread, excluded days in gray
    for is_gray, color in [(False, 'black'), (True, '#8c8c8c')]:
        rows = [(d, m, s) for d, m, s in zip(obs_days, p['mean'], p['sd'])
                if m is not None and (d in p['gray']) == is_gray]
        fig.add_trace(go.Scatter(x=[r[0] for r in rows], y=[r[1] for r in rows], xaxis=xa, yaxis=ya, mode='markers',
                                 marker=dict(symbol='line-ew', size=6, line=dict(width=2, color=color)),
                                 error_y=dict(type='data', array=[r[2] for r in rows], width=6.5, thickness=2.5, color=color),
                                 hoverinfo='skip', showlegend=False))
    if i == 0:
        fig.add_trace(go.Scatter(x=kol_whisk_days, y=kol_whisk_low, xaxis=xa, yaxis=ya, mode='markers',
                                 marker=dict(size=1, color='black'),
                                 error_y=dict(type='data', symmetric=False,
                                              array=[h - l for h, l in zip(kol_whisk_high, kol_whisk_low)],
                                              arrayminus=[0] * len(kol_whisk_low), width=0, thickness=2.5, color='black'),
                                 hoverinfo='skip', showlegend=False))

    layout_axes[f'xaxis{n}'] = dict(
        domain=[px_x(83), px_x(902)], anchor=ya, range=[243, 304], tickmode='array', tickvals=list(range(250, 301, 10)),
        ticks='inside', ticklen=5, tickwidth=1, tickcolor='#444', showgrid=False, zeroline=False, mirror='ticks',
        showline=True, linecolor='#666', linewidth=1, layer='below traces', ticklabelstandoff=6,
        tickfont=dict(size=14, **bold),
        minor=dict(tickmode='array', tickvals=list(range(244, 304)), ticks='inside', ticklen=3, tickcolor='#444', showgrid=False))
    layout_axes[f'yaxis{n}'] = dict(
        domain=[px_y(p['bottom']), px_y(p['top'])], anchor=xa, range=p['yrange'], tickmode='array', tickvals=p['major'],
        ticks='inside', ticklen=17, tickwidth=1, tickcolor='#444', showgrid=False, zeroline=False, mirror='ticks',
        showline=True, linecolor='#666', linewidth=1, layer='above traces', ticklabelstandoff=3,
        tickfont=dict(size=14, **bold),
        minor=dict(tickmode='array', tickvals=p['minor'], ticks='inside', ticklen=8, tickcolor='#444', showgrid=False))

    for part, x_px in zip(p['title'], p['title_x']):
        annotations.append(dict(text=part, xref='paper', yref='paper', x=px_x(x_px), y=px_y(p['title_y']),
                                xanchor='left', yanchor='middle', showarrow=False, font=dict(size=16, **bold)))
    annotations.append(dict(text='CH4 [ppb]', xref='paper', yref='paper', x=px_x(20), y=px_y((p['top'] + p['bottom']) / 2 + 1),
                            xanchor='center', yanchor='middle', textangle=-90, showarrow=False, font=dict(size=13, **bold)))
    # labels pinned at the edge of the axis, their values lie just outside the range
    for label, y_px in p['extra']:
        annotations.append(dict(text=label, xref='paper', yref='paper', x=px_x(78), y=px_y(y_px), xanchor='right', yanchor='middle',
                                showarrow=False, font=dict(size=14, **bold)))

    # colour key drawn as a set of equal bars
    n_leg = n + 4
    xl, yl = f'x{n_leg}', f'y{n_leg}'
    rows = list(range(7, -1, -1))
    fig.add_trace(go.Bar(x=[1] * 8, y=rows, width=1, orientation='h', xaxis=xl, yaxis=yl, marker=dict(color=band_colors, line=dict(width=0)),
                         hoverinfo='skip', showlegend=False))
    layout_axes[f'xaxis{n_leg}'] = dict(domain=[px_x(913), 1], anchor=yl, range=[0, 1], visible=False, fixedrange=True)
    layout_axes[f'yaxis{n_leg}'] = dict(domain=[px_y(p['bottom']), px_y(p['leg_top'])], anchor=xl, range=[-0.5, 7.5], visible=False)
    for row, name, value in zip(rows, p['names'], p['values']):
        color = 'white' if row == 6 else 'black'
        annotations.append(dict(text=f'{value:.1f}', xref=xl, yref=yl, x=0.232, y=row - 0.3, xanchor='right', yanchor='middle',
                                showarrow=False, font=dict(family='DejaVu Sans', weight=700, size=12.5, color=color)))
        annotations.append(dict(text=name, xref=xl, yref=yl, x=0.26, y=row - 0.3, xanchor='left', yanchor='middle',
                                showarrow=False, font=dict(family='DejaVu Sans', weight=700, size=12.5, color=color)))

fig.update_layout(width=W, height=H, margin=dict(l=0, r=0, t=0, b=0), plot_bgcolor='white', paper_bgcolor='white',
                  showlegend=False, annotations=annotations, barmode='overlay', bargap=0, **layout_axes)

fig.write_html('out.html', config={'displayModeBar': False},
               post_script="document.body.style.margin='0';document.body.style.overflow='hidden';")
